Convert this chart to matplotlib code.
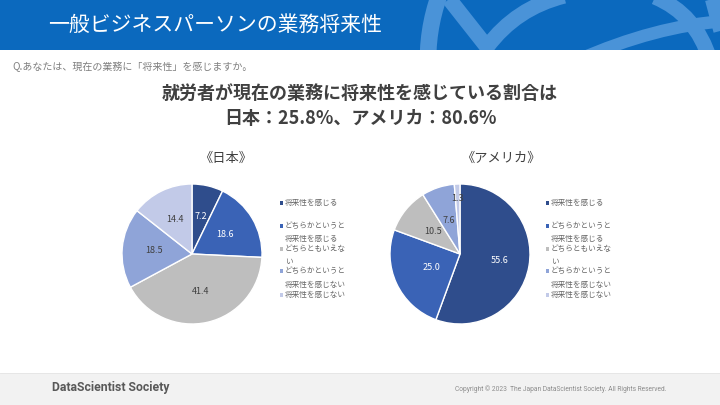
import matplotlib
matplotlib.use("Agg")
import matplotlib.pyplot as plt
import numpy as np
from matplotlib.patches import Rectangle, Circle, PathPatch
from matplotlib.path import Path

plt.rcParams['font.family'] = ['Noto Sans CJK JP', 'DejaVu Sans']

# ---- data ----
categories = ["将来性を感じる", "どちらかというと\n将来性を感じる", "どちらともいえな\nい",
              "どちらかというと\n将来性を感じない", "将来性を感じない"]
japan_values = [7.2, 18.6, 41.4, 18.5, 14.4]
usa_values = [55.6, 25.0, 10.5, 7.6, 1.3]
japan_title = "《日本》"
usa_title = "《アメリカ》"
header_text = "一般ビジネスパーソンの業務将来性"
question_text = "Q.あなたは、現在の業務に「将来性」を感じますか。"
title_line1 = "就労者が現在の業務に将来性を感じている割合は"
title_line2 = "日本：25.8%、アメリカ：80.6%"
footer_left = "DataScientist Society"
footer_right = "Copyright © 2023  The Japan DataScientist Society. All Rights Reserved."

colors = ["#2F4D8C", "#3A63B6", "#BEBEBE", "#8FA4D8", "#C2CAE8"]
label_colors = ["white", "white", "#404040", "#404040", "#404040"]

W, H = 720, 405
fig = plt.figure(figsize=(7.2, 4.05), dpi=100)
fig.patch.set_facecolor("white")

bg = fig.add_axes([0, 0, 1, 1])
bg.set_xlim(0, W)
bg.set_ylim(H, 0)
bg.axis("off")

# header band
band_color = "#0B69BE"
deco = "#4A93D8"
hdr = Rectangle((0, 0), W, 50, facecolor=band_color, edgecolor="none", zorder=1)
bg.add_patch(hdr)

def add_path(verts, codes, lw):
    p = PathPatch(Path(verts, codes), facecolor="none", edgecolor=deco, lw=lw,
                  capstyle="butt", joinstyle="round", zorder=2)
    bg.add_patch(p)
    p.set_clip_path(hdr)

c = Circle((620, 60), 192, fill=False, edgecolor=deco, lw=12, zorder=2)
bg.add_patch(c)
c.set_clip_path(hdr)
add_path([(446, -5), (487, 47), (516, 8), (564, -4)],
         [Path.MOVETO, Path.LINETO, Path.CURVE3, Path.CURVE3], 11)
add_path([(655, -3), (696, 14), (710, 60)],
         [Path.MOVETO, Path.CURVE3, Path.CURVE3], 11)
add_path([(578, 60), (655, 26), (725, 21)],
         [Path.MOVETO, Path.CURVE3, Path.CURVE3], 9)
add_path([(712, -3), (724, 42)], [Path.MOVETO, Path.LINETO], 11)

bg.text(48, 25, header_text, color="white", fontsize=15, va="center", ha="left", zorder=3)

# question
bg.text(12, 67, question_text, color="#7F7F7F", fontsize=7.2, va="center", ha="left")

# main title
bg.text(360, 93, title_line1, color="#404040", fontsize=13, fontweight="bold",
        va="center", ha="center")
bg.text(360, 118, title_line2, color="#404040", fontsize=13, fontweight="bold",
        va="center", ha="center")

# footer
bg.add_patch(Rectangle((0, 373), W, 32, facecolor="#F2F2F2", edgecolor="none"))
bg.plot([0, W], [373, 373], color="#E4E4E4", lw=0.6)
bg.text(52, 388, footer_left, color="#595959", fontsize=8.8, fontweight="bold",
        family=["Liberation Sans Narrow", "Roboto", "DejaVu Sans"], va="center", ha="left")
bg.text(455, 389, footer_right, color="#8C8C8C", fontsize=4.8,
        family=["Liberation Sans Narrow", "Roboto", "DejaVu Sans"], va="center", ha="left")


def draw_pie(values, cx, cy, r, title, tx, ty, legend_x, label_dist):
    pad = 1.05
    w = 2 * r * pad
    ax = fig.add_axes([(cx - r * pad) / W, (H - cy - r * pad) / H, w / W, w / H])
    wedges, _ = ax.pie(values, colors=colors, startangle=90, counterclock=False,
                       wedgeprops=dict(edgecolor="white", linewidth=1.0))
    ax.set_xlim(-pad, pad)
    ax.set_ylim(-pad, pad)
    ax.set_aspect("equal")
    ax.axis("off")
    for i, wdg in enumerate(wedges):
        ang = np.deg2rad((wdg.theta1 + wdg.theta2) / 2)
        d = label_dist[i]
        ax.text(d * np.cos(ang), d * np.sin(ang), f"{values[i]:.1f}",
                ha="center", va="center", fontsize=6.5, color=label_colors[i])
    bg.text(tx, ty, title, fontsize=9.5, color="#404040", ha="center", va="center")
    # legend
    first_lines = [203, 226, 249, 271, 295]
    for i, lab in enumerate(categories):
        y0 = first_lines[i]
        bg.add_patch(Rectangle((legend_x, y0 - 1.6), 3.2, 3.2, facecolor=colors[i],
                               edgecolor="none"))
        for j, line in enumerate(lab.split("\n")):
            bg.text(legend_x + 5, y0 + j * 13.5, line, fontsize=5.5, color="#666666",
                    ha="left", va="center")


draw_pie(japan_values, 192, 254, 70, japan_title, 226, 158, 280,
         [0.55, 0.55, 0.55, 0.55, 0.55])
draw_pie(usa_values, 460, 254, 70, usa_title, 501, 158, 546,
         [0.57, 0.45, 0.5, 0.5, 0.8])

fig.savefig("out.png", dpi=100)
